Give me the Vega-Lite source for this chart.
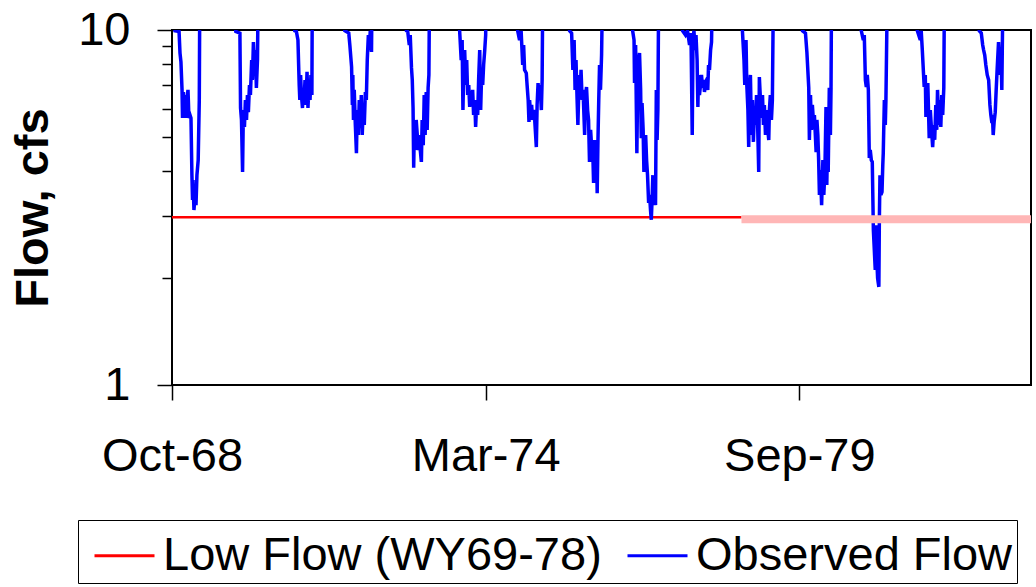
{
  "$schema": "https://vega.github.io/schema/vega-lite/v6.json",
  "width": 859,
  "height": 355,
  "autosize": "none",
  "padding": {"left": 172, "top": 30, "right": 5, "bottom": 202},
  "background": "white",
  "config": {
    "view": {"stroke": "#000000", "strokeWidth": 2},
    "axis": {"labelFont": "Liberation Sans", "titleFont": "Liberation Sans", "labelColor": "black", "titleColor": "black", "tickColor": "black", "grid": false, "domain": false},
    "legend": {"labelFont": "Liberation Sans", "labelColor": "black"}
  },
  "datasets": {
    "flow": [
      {"date":"1968-10-01","flow":12},{"date":"1968-10-20","flow":9.95},{"date":"1968-11-15","flow":9.9},{"date":"1968-11-21","flow":8.61},{"date":"1968-11-27","flow":8.13},{"date":"1968-12-04","flow":6.78},{"date":"1968-12-07","flow":5.65},{"date":"1968-12-13","flow":6.69},{"date":"1968-12-16","flow":5.76},{"date":"1968-12-23","flow":6.56},{"date":"1968-12-29","flow":5.65},{"date":"1969-01-04","flow":6.35},{"date":"1969-01-11","flow":6.78},{"date":"1969-01-17","flow":5.65},{"date":"1969-01-24","flow":5.76},{"date":"1969-01-30","flow":5.65},{"date":"1969-02-05","flow":3.9},{"date":"1969-02-09","flow":3.32},{"date":"1969-02-12","flow":3.78},{"date":"1969-02-18","flow":3.11},{"date":"1969-02-25","flow":3.43},{"date":"1969-03-03","flow":3.21},{"date":"1969-03-09","flow":3.9},{"date":"1969-03-17","flow":4.3},{"date":"1969-03-24","flow":6.35},{"date":"1969-03-28","flow":15},{"date":"1969-07-01","flow":40},
      {"date":"1969-11-12","flow":9.9},{"date":"1969-12-08","flow":9.8},{"date":"1969-12-12","flow":6.03},{"date":"1969-12-18","flow":5.58},{"date":"1969-12-25","flow":3.98},{"date":"1969-12-30","flow":5.95},{"date":"1970-01-06","flow":5.33},{"date":"1970-01-12","flow":6.35},{"date":"1970-01-19","flow":5.58},{"date":"1970-01-25","flow":6.56},{"date":"1970-01-31","flow":5.87},{"date":"1970-02-07","flow":7.0},{"date":"1970-02-13","flow":6.56},{"date":"1970-02-21","flow":8.23},{"date":"1970-02-26","flow":7.23},{"date":"1970-03-04","flow":9.25},{"date":"1970-03-11","flow":7.97},{"date":"1970-03-17","flow":8.78},{"date":"1970-03-23","flow":6.87},{"date":"1970-03-30","flow":8.23},{"date":"1970-04-05","flow":15},{"date":"1970-07-19","flow":35},
      {"date":"1970-11-23","flow":9.95},{"date":"1970-12-03","flow":9.9},{"date":"1970-12-13","flow":9.37},{"date":"1970-12-21","flow":7.0},{"date":"1970-12-25","flow":6.35},{"date":"1970-12-30","flow":7.47},{"date":"1971-01-04","flow":6.56},{"date":"1971-01-11","flow":6.03},{"date":"1971-01-16","flow":6.78},{"date":"1971-01-20","flow":6.15},{"date":"1971-01-27","flow":7.23},{"date":"1971-02-02","flow":6.15},{"date":"1971-02-09","flow":7.62},{"date":"1971-02-15","flow":6.03},{"date":"1971-02-21","flow":7.0},{"date":"1971-02-28","flow":6.35},{"date":"1971-03-06","flow":7.47},{"date":"1971-03-12","flow":6.56},{"date":"1971-03-15","flow":15},{"date":"1971-07-04","flow":40},
      {"date":"1971-10-08","flow":9.95},{"date":"1971-11-02","flow":9.8},{"date":"1971-11-09","flow":9.07},{"date":"1971-11-20","flow":7.87},{"date":"1971-11-25","flow":6.15},{"date":"1971-11-28","flow":7.47},{"date":"1971-12-02","flow":5.58},{"date":"1971-12-07","flow":6.78},{"date":"1971-12-14","flow":5.4},{"date":"1971-12-21","flow":4.5},{"date":"1971-12-26","flow":5.95},{"date":"1972-01-02","flow":5.06},{"date":"1972-01-08","flow":6.35},{"date":"1972-01-15","flow":5.3},{"date":"1972-01-21","flow":6.56},{"date":"1972-01-27","flow":5.06},{"date":"1972-02-03","flow":6.15},{"date":"1972-02-09","flow":5.4},{"date":"1972-02-16","flow":6.69},{"date":"1972-02-22","flow":6.35},{"date":"1972-02-28","flow":8.23},{"date":"1972-03-06","flow":9.68},{"date":"1972-03-12","flow":8.78},{"date":"1972-03-18","flow":9.95},{"date":"1972-03-26","flow":8.67},{"date":"1972-03-31","flow":15},{"date":"1972-07-08","flow":40},
      {"date":"1972-11-04","flow":9.95},{"date":"1972-11-12","flow":9.9},{"date":"1972-11-22","flow":9.07},{"date":"1972-11-28","flow":9.68},{"date":"1972-12-06","flow":7.82},{"date":"1972-12-11","flow":7.23},{"date":"1972-12-16","flow":6.03},{"date":"1972-12-20","flow":4.09},{"date":"1972-12-25","flow":5.58},{"date":"1972-12-30","flow":4.59},{"date":"1973-01-05","flow":5.58},{"date":"1973-01-12","flow":5.06},{"date":"1973-01-18","flow":4.59},{"date":"1973-01-24","flow":5.06},{"date":"1973-01-31","flow":4.59},{"date":"1973-02-07","flow":4.25},{"date":"1973-02-12","flow":5.58},{"date":"1973-02-19","flow":4.74},{"date":"1973-02-25","flow":6.56},{"date":"1973-03-03","flow":5.06},{"date":"1973-03-10","flow":6.69},{"date":"1973-03-16","flow":5.23},{"date":"1973-03-22","flow":6.87},{"date":"1973-03-27","flow":7.47},{"date":"1973-04-01","flow":15},{"date":"1973-07-06","flow":40},
      {"date":"1973-10-09","flow":9.95},{"date":"1973-10-19","flow":8.23},{"date":"1973-10-25","flow":9.37},{"date":"1973-10-30","flow":5.95},{"date":"1973-11-04","flow":7.72},{"date":"1973-11-10","flow":8.78},{"date":"1973-11-17","flow":7.0},{"date":"1973-11-23","flow":8.23},{"date":"1973-11-29","flow":6.56},{"date":"1973-12-06","flow":7.0},{"date":"1973-12-12","flow":6.07},{"date":"1973-12-18","flow":6.56},{"date":"1973-12-25","flow":6.35},{"date":"1973-12-31","flow":6.78},{"date":"1974-01-06","flow":5.76},{"date":"1974-01-13","flow":6.35},{"date":"1974-01-19","flow":5.33},{"date":"1974-01-25","flow":6.15},{"date":"1974-02-01","flow":5.76},{"date":"1974-02-07","flow":7.23},{"date":"1974-02-14","flow":8.78},{"date":"1974-02-20","flow":5.95},{"date":"1974-02-26","flow":7.47},{"date":"1974-03-05","flow":7.0},{"date":"1974-03-11","flow":7.97},{"date":"1974-03-18","flow":8.78},{"date":"1974-03-24","flow":9.68},{"date":"1974-03-28","flow":15},{"date":"1974-07-04","flow":40},
      {"date":"1974-10-14","flow":9.95},{"date":"1974-10-26","flow":9.37},{"date":"1974-11-05","flow":9.95},{"date":"1974-11-15","flow":7.97},{"date":"1974-11-21","flow":9.07},{"date":"1974-11-27","flow":7.72},{"date":"1974-12-08","flow":7.56},{"date":"1974-12-13","flow":7.0},{"date":"1974-12-20","flow":6.35},{"date":"1974-12-25","flow":5.51},{"date":"1974-12-29","flow":6.35},{"date":"1975-01-05","flow":5.76},{"date":"1975-01-11","flow":6.15},{"date":"1975-01-17","flow":5.58},{"date":"1975-01-24","flow":5.95},{"date":"1975-01-30","flow":5.65},{"date":"1975-02-10","flow":4.68},{"date":"1975-02-15","flow":6.15},{"date":"1975-02-21","flow":7.09},{"date":"1975-02-28","flow":6.35},{"date":"1975-03-06","flow":7.0},{"date":"1975-03-14","flow":5.95},{"date":"1975-03-19","flow":7.23},{"date":"1975-03-24","flow":15},{"date":"1975-06-26","flow":40},
      {"date":"1975-09-10","flow":9.95},{"date":"1975-09-23","flow":9.8},{"date":"1975-10-01","flow":7.72},{"date":"1975-10-09","flow":9.37},{"date":"1975-10-15","flow":6.78},{"date":"1975-10-21","flow":8.23},{"date":"1975-10-28","flow":6.35},{"date":"1975-11-02","flow":5.4},{"date":"1975-11-10","flow":7.47},{"date":"1975-11-16","flow":6.56},{"date":"1975-11-22","flow":7.72},{"date":"1975-11-29","flow":6.35},{"date":"1975-12-05","flow":6.78},{"date":"1975-12-15","flow":5.06},{"date":"1975-12-21","flow":6.56},{"date":"1975-12-27","flow":6.91},{"date":"1976-01-03","flow":5.95},{"date":"1976-01-09","flow":5.58},{"date":"1976-01-15","flow":4.25},{"date":"1976-01-22","flow":5.23},{"date":"1976-01-28","flow":4.74},{"date":"1976-02-03","flow":4.9},{"date":"1976-02-10","flow":3.71},{"date":"1976-02-16","flow":4.9},{"date":"1976-02-23","flow":3.9},{"date":"1976-02-29","flow":4.59},{"date":"1976-03-04","flow":3.47},{"date":"1976-03-09","flow":4.9},{"date":"1976-03-14","flow":6.35},{"date":"1976-03-19","flow":7.97},{"date":"1976-03-25","flow":6.78},{"date":"1976-04-01","flow":8.5},{"date":"1976-04-09","flow":15},{"date":"1976-06-24","flow":40},
      {"date":"1976-10-16","flow":9.95},{"date":"1976-10-25","flow":9.37},{"date":"1976-10-28","flow":7.09},{"date":"1976-11-04","flow":9.07},{"date":"1976-11-12","flow":4.5},{"date":"1976-11-16","flow":6.35},{"date":"1976-11-23","flow":8.23},{"date":"1976-11-29","flow":8.61},{"date":"1976-12-06","flow":6.78},{"date":"1976-12-10","flow":4.96},{"date":"1976-12-15","flow":6.23},{"date":"1976-12-22","flow":5.23},{"date":"1976-12-27","flow":3.98},{"date":"1976-12-31","flow":4.9},{"date":"1977-01-07","flow":5.06},{"date":"1977-01-13","flow":4.3},{"date":"1977-01-19","flow":3.9},{"date":"1977-01-26","flow":3.26},{"date":"1977-02-01","flow":3.43},{"date":"1977-02-07","flow":3.11},{"date":"1977-02-12","flow":2.92},{"date":"1977-02-17","flow":3.32},{"date":"1977-02-22","flow":3.9},{"date":"1977-02-26","flow":3.21},{"date":"1977-03-05","flow":3.66},{"date":"1977-03-11","flow":3.21},{"date":"1977-03-16","flow":6.78},{"date":"1977-03-21","flow":4.9},{"date":"1977-03-26","flow":5.95},{"date":"1977-04-01","flow":15},{"date":"1977-06-21","flow":40},
      {"date":"1977-08-30","flow":9.95},{"date":"1977-09-18","flow":9.68},{"date":"1977-10-01","flow":9.95},{"date":"1977-10-14","flow":9.07},{"date":"1977-10-23","flow":9.8},{"date":"1977-10-31","flow":5.06},{"date":"1977-11-05","flow":9.37},{"date":"1977-11-11","flow":9.95},{"date":"1977-11-18","flow":8.78},{"date":"1977-11-24","flow":9.68},{"date":"1977-12-01","flow":8.23},{"date":"1977-12-06","flow":6.07},{"date":"1977-12-10","flow":7.47},{"date":"1977-12-16","flow":6.56},{"date":"1977-12-23","flow":7.0},{"date":"1977-12-29","flow":7.47},{"date":"1978-01-05","flow":6.87},{"date":"1978-01-11","flow":7.23},{"date":"1978-01-17","flow":6.69},{"date":"1978-01-24","flow":7.14},{"date":"1978-01-30","flow":7.23},{"date":"1978-02-07","flow":6.78},{"date":"1978-02-12","flow":7.97},{"date":"1978-02-18","flow":7.72},{"date":"1978-02-25","flow":8.78},{"date":"1978-03-03","flow":9.25},{"date":"1978-03-11","flow":15},{"date":"1978-06-13","flow":40},
      {"date":"1978-09-16","flow":9.95},{"date":"1978-09-26","flow":8.23},{"date":"1978-10-01","flow":7.0},{"date":"1978-10-09","flow":9.37},{"date":"1978-10-14","flow":7.0},{"date":"1978-10-21","flow":5.95},{"date":"1978-10-26","flow":4.68},{"date":"1978-10-31","flow":6.78},{"date":"1978-11-06","flow":7.47},{"date":"1978-11-13","flow":5.06},{"date":"1978-11-19","flow":6.35},{"date":"1978-11-25","flow":4.84},{"date":"1978-12-02","flow":5.95},{"date":"1978-12-08","flow":5.4},{"date":"1978-12-15","flow":6.56},{"date":"1978-12-21","flow":5.65},{"date":"1978-12-29","flow":3.98},{"date":"1979-01-02","flow":7.37},{"date":"1979-01-09","flow":6.35},{"date":"1979-01-15","flow":5.65},{"date":"1979-01-22","flow":6.56},{"date":"1979-01-28","flow":5.4},{"date":"1979-02-03","flow":6.15},{"date":"1979-02-10","flow":5.06},{"date":"1979-02-16","flow":5.95},{"date":"1979-02-22","flow":5.4},{"date":"1979-03-03","flow":4.9},{"date":"1979-03-07","flow":5.95},{"date":"1979-03-13","flow":6.56},{"date":"1979-03-20","flow":5.58},{"date":"1979-03-26","flow":6.35},{"date":"1979-04-03","flow":15},{"date":"1979-07-14","flow":40},
      {"date":"1979-10-04","flow":9.95},{"date":"1979-10-23","flow":9.8},{"date":"1979-11-01","flow":8.67},{"date":"1979-11-13","flow":6.87},{"date":"1979-11-17","flow":4.9},{"date":"1979-11-24","flow":6.56},{"date":"1979-11-30","flow":5.23},{"date":"1979-12-06","flow":6.15},{"date":"1979-12-13","flow":5.51},{"date":"1979-12-19","flow":5.76},{"date":"1979-12-30","flow":4.53},{"date":"1980-01-04","flow":5.58},{"date":"1980-01-10","flow":5.06},{"date":"1980-01-15","flow":4.3},{"date":"1980-01-20","flow":3.43},{"date":"1980-01-26","flow":4.03},{"date":"1980-02-03","flow":3.21},{"date":"1980-02-11","flow":4.3},{"date":"1980-02-17","flow":3.43},{"date":"1980-02-24","flow":4.03},{"date":"1980-03-02","flow":6.07},{"date":"1980-03-07","flow":3.66},{"date":"1980-03-12","flow":4.9},{"date":"1980-03-16","flow":3.98},{"date":"1980-03-23","flow":6.87},{"date":"1980-03-30","flow":5.06},{"date":"1980-04-03","flow":6.87},{"date":"1980-04-07","flow":15},{"date":"1980-07-18","flow":40},
      {"date":"1980-10-13","flow":9.95},{"date":"1980-10-26","flow":9.37},{"date":"1980-11-01","flow":9.68},{"date":"1980-11-08","flow":7.23},{"date":"1980-11-14","flow":6.91},{"date":"1980-11-20","flow":7.47},{"date":"1980-11-27","flow":6.78},{"date":"1980-12-03","flow":4.36},{"date":"1980-12-09","flow":4.59},{"date":"1980-12-16","flow":4.3},{"date":"1980-12-22","flow":4.25},{"date":"1980-12-29","flow":2.73},{"date":"1981-01-04","flow":2.4},{"date":"1981-01-10","flow":2.11},{"date":"1981-01-15","flow":2.82},{"date":"1981-01-20","flow":2.25},{"date":"1981-01-25","flow":2.0},{"date":"1981-01-29","flow":1.94},{"date":"1981-02-02","flow":1.89},{"date":"1981-02-05","flow":2.88},{"date":"1981-02-09","flow":3.9},{"date":"1981-02-15","flow":3.43},{"date":"1981-02-22","flow":3.5},{"date":"1981-02-27","flow":4.17},{"date":"1981-03-02","flow":4.5},{"date":"1981-03-09","flow":6.35},{"date":"1981-03-15","flow":5.4},{"date":"1981-03-19","flow":6.35},{"date":"1981-03-30","flow":15},{"date":"1981-07-01","flow":40},
      {"date":"1981-10-05","flow":9.95},{"date":"1981-10-24","flow":9.37},{"date":"1981-10-30","flow":9.95},{"date":"1981-11-06","flow":8.78},{"date":"1981-11-18","flow":6.91},{"date":"1981-11-25","flow":7.47},{"date":"1981-11-29","flow":5.69},{"date":"1981-12-04","flow":6.56},{"date":"1981-12-11","flow":7.09},{"date":"1981-12-20","flow":4.96},{"date":"1981-12-27","flow":5.95},{"date":"1982-01-02","flow":5.4},{"date":"1982-01-11","flow":4.68},{"date":"1982-01-18","flow":5.4},{"date":"1982-01-24","flow":4.9},{"date":"1982-01-31","flow":6.15},{"date":"1982-02-06","flow":5.23},{"date":"1982-02-11","flow":6.78},{"date":"1982-02-19","flow":5.4},{"date":"1982-02-25","flow":6.35},{"date":"1982-03-04","flow":5.33},{"date":"1982-03-10","flow":6.56},{"date":"1982-03-16","flow":5.76},{"date":"1982-03-23","flow":6.87},{"date":"1982-03-28","flow":15},{"date":"1982-07-12","flow":40},
      {"date":"1982-11-04","flow":9.95},{"date":"1982-11-17","flow":9.8},{"date":"1982-11-26","flow":9.07},{"date":"1982-12-02","flow":8.78},{"date":"1982-12-09","flow":8.5},{"date":"1982-12-16","flow":7.97},{"date":"1982-12-25","flow":7.47},{"date":"1983-01-03","flow":7.23},{"date":"1983-01-11","flow":6.15},{"date":"1983-01-17","flow":5.76},{"date":"1983-01-24","flow":5.47},{"date":"1983-01-27","flow":5.76},{"date":"1983-02-01","flow":5.06},{"date":"1983-02-07","flow":5.51},{"date":"1983-02-14","flow":5.87},{"date":"1983-02-20","flow":6.78},{"date":"1983-02-26","flow":7.72},{"date":"1983-03-07","flow":9.25},{"date":"1983-03-11","flow":8.5},{"date":"1983-03-18","flow":7.47},{"date":"1983-03-24","flow":8.23},{"date":"1983-03-28","flow":6.78},{"date":"1983-04-06","flow":15},{"date":"1983-06-15","flow":40},{"date":"1983-09-30","flow":30}
    ],
    "lowA": [{"date":"1968-10-01","flow":2.97},{"date":"1978-09-10","flow":2.97}],
    "lowB": [{"date":"1978-09-10","flow":2.93},{"date":"1983-09-30","flow":2.93}]
  },
  "encoding": {
    "x": {
      "field": "date", "type": "temporal",
      "scale": {"type": "utc", "domain": [{"year":1968,"month":10,"date":1,"utc":true},{"year":1983,"month":9,"date":30,"utc":true}]},
      "axis": {
        "title": null,
        "values": [{"year":1968,"month":10,"date":1,"utc":true},{"year":1974,"month":3,"date":24,"utc":true},{"year":1979,"month":9,"date":14,"utc":true}],
        "labelExpr": "utcFormat(datum.value, '%b-%y')",
        "labelFontSize": 47, "labelBaseline": "alphabetic", "labelPadding": 70, "tickSize": 15, "tickWidth": 1.5,
        "labelOverlap": false, "labelFlush": false
      }
    }
  },
  "layer": [
    {
      "data": {"name": "lowA"},
      "mark": {"type": "line", "strokeWidth": 2.5, "strokeCap": "butt"},
      "encoding": {
        "y": {
          "field": "flow", "type": "quantitative",
          "scale": {"type": "log", "domain": [1, 10], "nice": false},
          "axis": {
            "values": [1, 10], "format": "d", "labelFontSize": 47, "labelPadding": 27, "tickSize": 15, "tickWidth": 1.5,
            "labelBaseline": "middle",
            "title": "Flow, cfs", "titleFontSize": 47, "titleFontWeight": "bold", "titleAngle": -90,
            "titleX": -125, "titleY": 177.5, "titleAlign": "center", "titleBaseline": "alphabetic"
          }
        },
        "color": {
          "datum": "Low Flow (WY69-78)",
          "scale": {"domain": ["Low Flow (WY69-78)", "Observed Flow"], "range": ["#FF0000", "#0000FF"]},
          "legend": {
            "orient": "none", "legendX": -94, "legendY": 490, "direction": "horizontal", "title": null,
            "symbolType": "stroke", "symbolSize": 3600, "symbolStrokeWidth": 3,
            "labelFontSize": 47, "labelLimit": 1000, "padding": 4, "symbolOffset": 11,
            "columnPadding": 13, "labelOffset": 7,
            "labelExpr": "datum.label == 'Observed Flow' ? datum.label + '\u00a0\u00a0' : datum.label",
            "strokeColor": "#000000", "fillColor": "#FFFFFF", "cornerRadius": 0
          }
        }
      }
    },
    {
      "data": {"name": "flow"},
      "mark": {"type": "line", "strokeWidth": 3.5, "clip": true},
      "encoding": {
        "y": {
          "field": "flow", "type": "quantitative",
          "scale": {"type": "log", "domain": [1, 10], "nice": false},
          "axis": {"orient": "left", "values": [2,3,4,5,6,7,8,9], "labels": false, "tickSize": 10, "tickWidth": 1.5, "title": null}
        },
        "color": {"datum": "Observed Flow"}
      }
    },
    {
      "data": {"name": "lowB"},
      "mark": {"type": "line", "strokeWidth": 8, "strokeCap": "butt", "color": "#FFB6B6"},
      "encoding": {
        "y": {"field": "flow", "type": "quantitative", "axis": null}
      }
    }
  ],
  "resolve": {"axis": {"y": "independent"}}
}
